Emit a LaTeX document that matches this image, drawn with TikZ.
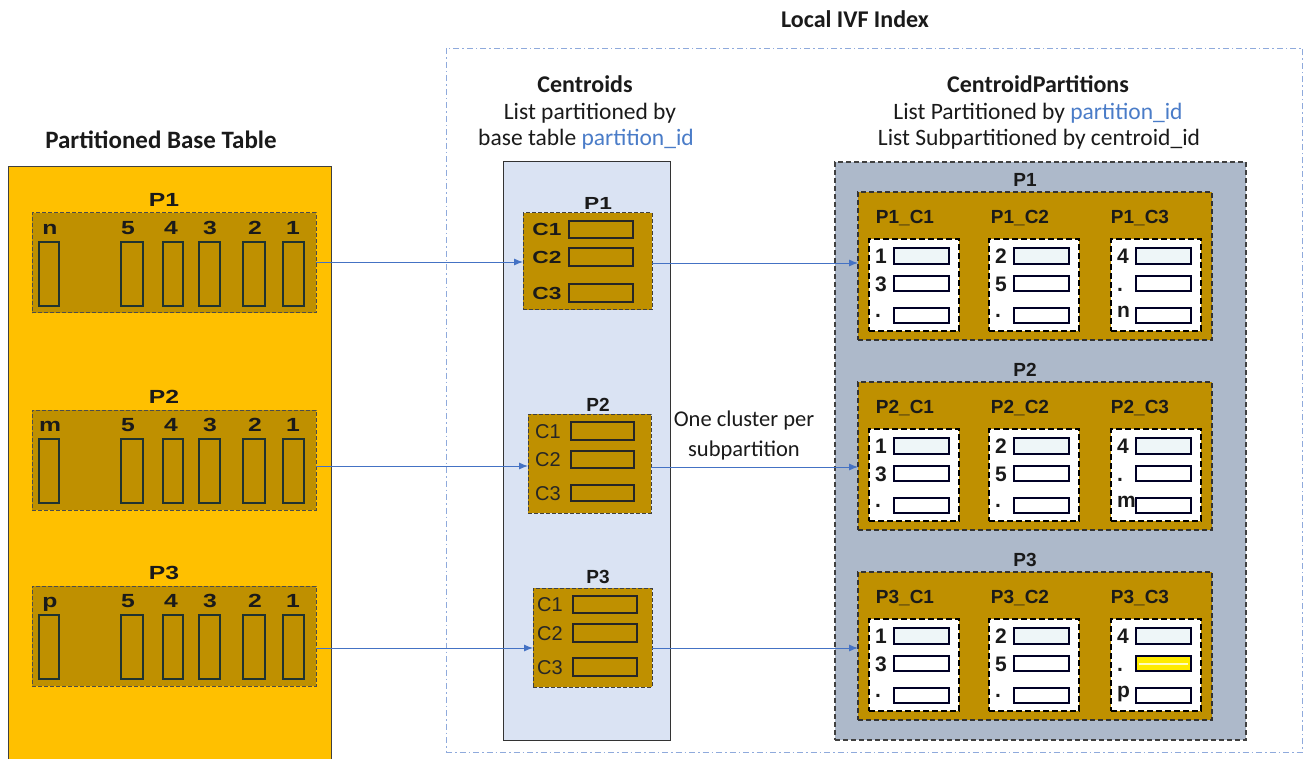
\documentclass[tikz,border=0pt]{standalone}
\usepackage{fontspec}
\setmainfont{Carlito}
\newfontfamily\arialf{Liberation Sans}
\newfontfamily\arialw[FakeStretch=1.3]{Liberation Sans}
\usetikzlibrary{arrows.meta}
\definecolor{goldA}{HTML}{FFC000}
\definecolor{goldB}{HTML}{BF9000}
\definecolor{lblue}{HTML}{DAE3F3}
\definecolor{gblue}{HTML}{ADB9CA}
\definecolor{arrblue}{HTML}{4472C4}
\definecolor{ivf}{HTML}{8FAADC}
\definecolor{txtblue}{HTML}{4A7CC8}
\definecolor{rectc}{HTML}{1F3330}
\definecolor{rowfill}{HTML}{EEF6F8}
\definecolor{hiyel}{HTML}{FFEB00}
\definecolor{ink}{HTML}{1A1A1A}
\newcommand\bx[6]{\node[#6, minimum width={((#4)-(#2))*1pt}, minimum height={((#5)-(#3))*1pt}] (#1) at ({((#2)+(#4))/2},{((#3)+(#5))/2}) {};}
\begin{document}
\begin{tikzpicture}[x=1pt,y=-1pt,
  every node/.style={inner sep=0pt, outer sep=0pt, text=ink},
  box/.style={rectangle, inner sep=0pt, outer sep=0pt},
  basetab/.style={box, fill=goldA, draw=black!75, line width=1pt},
  basepart/.style={box, fill=goldB, draw=black!70, dash pattern=on 4pt off 2pt, line width=1pt},
  colrect/.style={box, draw=rectc, line width=2.3pt},
  centcol/.style={box, fill=lblue, draw=black!80, line width=1pt},
  centpart/.style={box, fill=goldB, draw=black!75, dash pattern=on 4pt off 2pt, line width=1pt},
  centrect/.style={box, draw=black!85, line width=2.3pt},
  cpboxst/.style={box, fill=gblue, draw=black!75, dash pattern=on 5pt off 3pt, line width=1.5pt},
  cpgold/.style={box, fill=goldB, draw=black!80, dash pattern=on 5pt off 3pt, line width=1.6pt},
  wbox/.style={box, fill=white, draw=black, dash pattern=on 6pt off 3pt, line width=2.8pt},
  irect/.style={box, draw=black!85!blue, line width=2.4pt, fill=white},
  ivfbox/.style={box, draw=ivf, dash pattern=on 6pt off 3pt on 1.5pt off 3pt, line width=0.8pt},
  arr/.style={draw=arrblue, line width=0.9pt, -{Latex[length=9pt,width=7pt]}},
  title/.style={font=\bfseries\fontsize{24}{28}\selectfont, text height=15.5pt, text depth=0pt},
  sub/.style={font=\fontsize{23.5}{26}\selectfont, text height=15.1pt, text depth=0pt},
  blab/.style={font=\arialw\bfseries\fontsize{19}{20}\selectfont, text height=13.6pt, text depth=0pt},
  clabB/.style={font=\arialw\bfseries\fontsize{17.5}{20}\selectfont, text height=12.5pt, text depth=0pt},
  clabN/.style={font=\arialf\fontsize{20}{22}\selectfont, text height=14.3pt, text depth=0pt, text=black!85},
  plab/.style={font=\arialf\bfseries\fontsize{19}{20}\selectfont, text height=13.6pt, text depth=0pt},
  rlab/.style={font=\arialf\bfseries\fontsize{21}{22}\selectfont, text height=15pt, text depth=0pt, anchor=west}
]
\useasboundingbox (0,0) rectangle (1304,759);
\clip (0,0) rectangle (1304,759);
\fill[white] (0,0) rectangle (1304,759);

% titles
\node[title, font=\bfseries\fontsize{25}{28}\selectfont] (tbase) at (161,141) {Partitioned Base Table};
\node[title] (tivf) at (855,20) {Local IVF Index};
\bx{ivf}{446}{48}{1302}{752}{ivfbox}

% base table
\bx{base}{8}{167}{331}{765}{basetab}
\foreach \k/\dy/\ch in {1/0/n,2/197/m,3/373/p}{
  \node[blab] (bpl\k) at (164,{200+\dy}) {P\k};
  \bx{bp\k}{32}{213+\dy}{316}{313+\dy}{basepart}
  \foreach \lx/\l/\a/\b [count=\i] in {50/\ch/39/59, 128/5/121/143, 171/4/163/183, 210/3/199/220, 255/2/243/265, 293/1/283/304}{
    \node[blab] (bcl\k-\i) at (\lx,{228+\dy}) {\l};
    \bx{bc\k-\i}{\a}{242+\dy}{\b}{306+\dy}{colrect}
  }
}

% centroids
\node[title] (ctit) at (585,85) {Centroids};
\node[sub] (cs1) at (590,112) {List partitioned by};
\node[sub] (cs2) at (586,138) {base table \textcolor{txtblue}{partition\_id}};
\bx{ccol}{503}{162}{670}{740}{centcol}

\node[clabB] (cpl1) at (598,203) {P1};
\bx{cp1}{523}{213}{652}{310}{centpart}
\foreach \i/\a/\b in {1/221/238, 2/248/266, 3/284/302}{
  \node[clabB] (cl1-\i) at (547,{(\a+\b)/2}) {C\i};
  \bx{cr1-\i}{569}{\a}{633}{\b}{centrect}
}
\node[plab] (cpl2) at (598,405) {P2};
\bx{cp2}{528}{414}{651}{513}{centpart}
\foreach \i/\a/\b in {1/422/440, 2/451/468, 3/485/501}{
  \node[clabN] (cl2-\i) at (548,{(\a+\b)/2}) {C\i};
  \bx{cr2-\i}{571}{\a}{634}{\b}{centrect}
}
\node[plab] (cpl3) at (598,577) {P3};
\bx{cp3}{533}{588}{652}{687}{centpart}
\foreach \i/\a/\b in {1/596/613, 2/624/642, 3/658/676}{
  \node[clabN] (cl3-\i) at (550,{(\a+\b)/2}) {C\i};
  \bx{cr3-\i}{573}{\a}{637}{\b}{centrect}
}

\node[font=\fontsize{22.5}{30}\selectfont, align=center] (note) at (744,436) {One cluster per\\subpartition};

% centroid partitions
\node[title] (cptit) at (1038,85) {CentroidPartitions};
\node[sub] (cps1) at (1038,112) {List Partitioned by \textcolor{txtblue}{partition\_id}};
\node[sub] (cps2) at (1039,138) {List Subpartitioned by centroid\_id};
\bx{cpbox}{835}{162}{1246}{740}{cpboxst}

\foreach \k/\d/\ch in {1/0/n,2/190/m,3/380/p}{
  \node[plab] (gl\k) at (1025,{180+\d}) {P\k};
  \bx{g\k}{858}{192+\d}{1212}{340+\d}{cpgold}
  \foreach \c/\lx/\wx/\ra/\rb/\rc in {1/905/869/1/3/., 2/1020/989/2/5/., 3/1140/1111/4/./\ch}{
    \node[plab] (gl\k-\c) at (\lx,{217+\d}) {P\k\_C\c};
    \bx{w\k-\c}{\wx}{239+\d}{\wx+90}{331+\d}{wbox}
    \bx{r\k-\c-1}{\wx+25}{248+\d}{\wx+80}{264+\d}{irect, fill=rowfill}
    \bx{r\k-\c-2}{\wx+25}{276+\d}{\wx+80}{291+\d}{irect}
    \bx{r\k-\c-3}{\wx+25}{308+\d}{\wx+80}{323+\d}{irect}
    \node[rlab] (rl\k-\c-1) at ({\wx+6},{256+\d}) {\ra};
    \node[rlab] (rl\k-\c-2) at ({\wx+6},{284+\d}) {\rb};
    \node[rlab] (rl\k-\c-3) at ({\wx+6},{310+\d}) {\rc};
  }
}
\bx{hl}{1136}{656}{1191}{671}{irect, fill=hiyel}
\draw[yellow!25, line width=2pt] ([xshift=3pt]hl.west) -- ([xshift=-3pt]hl.east);

% arrows
\draw[arr] (bp1.east |- 0,262) -- (cp1.west |- 0,262);
\draw[arr] (bp2.east |- 0,466) -- (cp2.west |- 0,466);
\draw[arr] (bp3.east |- 0,648) -- (cp3.west |- 0,648);
\draw[arr] (cp1.east |- 0,263) -- (g1.west |- 0,263);
\draw[arr] (cp2.east |- 0,467) -- (g2.west |- 0,467);
\draw[arr] (cp3.east |- 0,648) -- (g3.west |- 0,648);
\end{tikzpicture}
\end{document}
